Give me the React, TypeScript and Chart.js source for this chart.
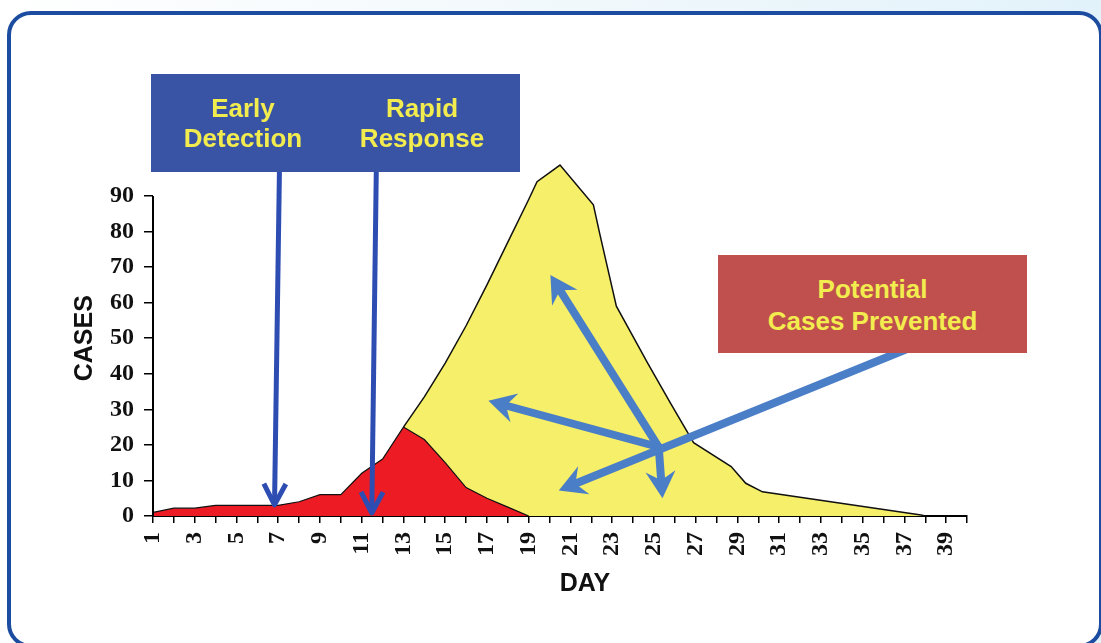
import React, { useEffect, useRef } from 'react';
import { Chart, registerables } from 'chart.js';

Chart.register(...registerables);

// ---- data ----
const dayMin = 1;
const dayMax = 40;
const caseMax = 100;
const caseAxisTop = 90;

const redDays = [1, 2, 3, 4, 5, 6, 7, 8, 9, 10, 11, 12, 13, 14, 15, 16, 17, 18, 19];
const redCases = [1, 2.2, 2.2, 3, 3, 3, 3, 4, 6, 6, 12, 16, 25, 21.5, 15, 8, 5, 2.5, 0];

const yellowDays = [13, 14, 15, 16, 17, 18, 19, 19.4, 20.5, 22.1, 22.4, 23.2, 24.7, 25.8, 26.9, 28.7, 29.4, 30.2, 37.8, 38];
const yellowCases = [25, 33.5, 43, 53.5, 65, 77, 89, 94, 98.7, 87.5, 79.5, 59, 43, 31.7, 20.6, 13.9, 9.2, 6.8, 0.3, 0];

// annotation arrows in data coordinates [day, cases]
const detectionArrows = [
  { from: [7.06, 98], to: [6.82, 2.3] },
  { from: [11.7, 98], to: [11.48, 0] },
];
const preventedHub = [25.23, 19.4];
const preventedTips = [
  [17.07, 32.4],
  [20.04, 67.8],
  [25.41, 5.0],
];
const preventedLong = { from: [37.1, 46.9], to: [20.44, 7.2] };

const detectionLabels = [['Early', 'Detection'], ['Rapid', 'Response']];
const preventedLabel = ['Potential', 'Cases Prevented'];

const RED = '#ED1C24';
const YELLOW = '#F6EF6A';
const DARK_BLUE = '#2D4DB2';
const LIGHT_BLUE = '#4A7EC7';

function fatArrow(ctx: CanvasRenderingContext2D, x1: number, y1: number, x2: number, y2: number) {
  const dx = x2 - x1, dy = y2 - y1;
  const len = Math.hypot(dx, dy);
  const ux = dx / len, uy = dy / len;
  const px = -uy, py = ux;
  const headLen = 27, headHalf = 15, notch = 9;
  ctx.strokeStyle = LIGHT_BLUE;
  ctx.fillStyle = LIGHT_BLUE;
  ctx.lineWidth = 8;
  ctx.lineCap = 'round';
  ctx.beginPath();
  ctx.moveTo(x1, y1);
  ctx.lineTo(x2 - ux * (headLen - notch - 1), y2 - uy * (headLen - notch - 1));
  ctx.stroke();
  ctx.beginPath();
  ctx.moveTo(x2, y2);
  ctx.lineTo(x2 - ux * headLen + px * headHalf, y2 - uy * headLen + py * headHalf);
  ctx.lineTo(x2 - ux * (headLen - notch), y2 - uy * (headLen - notch));
  ctx.lineTo(x2 - ux * headLen - px * headHalf, y2 - uy * headLen - py * headHalf);
  ctx.closePath();
  ctx.fill();
}

function thinArrow(ctx: CanvasRenderingContext2D, x1: number, y1: number, x2: number, y2: number) {
  const dx = x2 - x1, dy = y2 - y1;
  const len = Math.hypot(dx, dy);
  const ux = dx / len, uy = dy / len;
  const px = -uy, py = ux;
  const tipX = x2 - ux * 3, tipY = y2 - uy * 3;
  ctx.strokeStyle = DARK_BLUE;
  ctx.lineWidth = 5;
  ctx.lineCap = 'butt';
  ctx.lineJoin = 'round';
  ctx.beginPath();
  ctx.moveTo(x1, y1);
  ctx.lineTo(tipX, tipY);
  ctx.stroke();
  ctx.beginPath();
  ctx.moveTo(tipX - ux * 21 + px * 11, tipY - uy * 21 + py * 11);
  ctx.lineTo(tipX, tipY);
  ctx.lineTo(tipX - ux * 21 - px * 11, tipY - uy * 21 - py * 11);
  ctx.stroke();
}

const annotationPlugin = {
  id: 'epiAnnotations',
  afterLayout(chart: any) {
    // the DAY title sits a little right of the axis centre in the original
    const xs = chart.scales.x;
    if (xs && !xs.__shifted) {
      const orig = xs.drawTitle.bind(xs);
      xs.drawTitle = function () {
        const c = chart.ctx;
        c.save();
        c.translate(25, 0);
        orig();
        c.restore();
      };
      xs.__shifted = true;
    }
  },
  afterDatasetsDraw(chart: any) {
    const { ctx, chartArea } = chart;
    const x = chart.scales.x;
    const y = chart.scales.y;
    const P = (p: number[]) => [x.getPixelForValue(p[0]), y.getPixelForValue(p[1])];
    ctx.save();
    // y axis line (0..90)
    ctx.strokeStyle = '#000';
    ctx.lineWidth = 2;
    ctx.beginPath();
    ctx.moveTo(chartArea.left, y.getPixelForValue(0) + 1);
    ctx.lineTo(chartArea.left, y.getPixelForValue(caseAxisTop));
    ctx.stroke();

    detectionArrows.forEach((a) => {
      const [x1, y1] = P(a.from);
      const [x2, y2] = P(a.to);
      thinArrow(ctx, x1, y1, x2, y2);
    });

    const [hx, hy] = P(preventedHub);
    preventedTips.forEach((t) => {
      const [tx, ty] = P(t);
      fatArrow(ctx, hx, hy, tx, ty);
    });
    const [lx1, ly1] = P(preventedLong.from);
    const [lx2, ly2] = P(preventedLong.to);
    fatArrow(ctx, lx1, ly1, lx2, ly2);
    ctx.restore();
  },
};

export default function App() {
  const canvasRef = useRef<HTMLCanvasElement>(null);

  useEffect(() => {
    const canvas = canvasRef.current;
    if (!canvas) return;
    const chart = new Chart(canvas, {
      type: 'line',
      data: {
        datasets: [
          {
            label: 'Cases',
            data: redDays.map((d, i) => ({ x: d, y: redCases[i] })),
            backgroundColor: RED,
            borderColor: '#111',
            borderWidth: 1.2,
            fill: 'origin',
            pointRadius: 0,
            tension: 0,
          },
          {
            label: 'Potential cases',
            data: yellowDays.map((d, i) => ({ x: d, y: yellowCases[i] })),
            backgroundColor: YELLOW,
            borderColor: '#111',
            borderWidth: 1.5,
            fill: 'origin',
            pointRadius: 0,
            tension: 0,
          },
        ],
      },
      options: {
        animation: false,
        responsive: false,
        devicePixelRatio: 1,
        layout: { padding: { left: 53, right: 134, top: 160.4, bottom: 27 } },
        plugins: {
          legend: { display: false },
          tooltip: { enabled: false },
        },
        scales: {
          x: {
            type: 'linear',
            min: dayMin,
            max: dayMax,
            afterFit: (s: any) => { s.height = 100; },
            border: { display: true, color: '#000', width: 2 },
            grid: { drawOnChartArea: false, drawTicks: true, tickLength: 7, color: '#000', lineWidth: 1.5 },
            ticks: {
              stepSize: 1,
              maxTicksLimit: 60,
              autoSkip: false,
              minRotation: 90,
              maxRotation: 90,
              padding: 9,
              color: '#111',
              font: { family: '"Liberation Serif", "Times New Roman", serif', weight: 'bold', size: 24 },
              callback: (v: any) => (Number(v) % 2 === 1 && Number(v) < dayMax ? String(v) : ''),
            },
            title: {
              display: true,
              text: 'DAY',
              color: '#111',
              padding: { top: 0, bottom: 17 },
              font: { family: '"Liberation Sans", Arial, sans-serif', weight: 'bold', size: 25 },
            },
          },
          y: {
            type: 'linear',
            min: 0,
            max: caseMax,
            afterFit: (s: any) => { s.width = 100; },
            border: { display: false },
            grid: {
              drawOnChartArea: false,
              drawTicks: true,
              tickLength: 9,
              lineWidth: 1.5,
              color: (c: any) => (c.tick && c.tick.value > caseAxisTop ? 'rgba(0,0,0,0)' : '#000'),
            },
            ticks: {
              stepSize: 10,
              padding: 10,
              color: '#111',
              font: { family: '"Liberation Serif", "Times New Roman", serif', weight: 'bold', size: 24 },
              callback: (v: any) => (Number(v) > caseAxisTop ? '' : String(v)),
            },
            title: {
              display: true,
              text: 'CASES',
              color: '#111',
              padding: { top: 17, bottom: 0 },
              font: { family: '"Liberation Sans", Arial, sans-serif', weight: 'bold', size: 25 },
            },
          },
        },
      },
      plugins: [annotationPlugin],
    } as any);
    return () => chart.destroy();
  }, []);

  const boxText: React.CSSProperties = {
    position: 'absolute',
    width: 200,
    textAlign: 'center',
    color: '#F2EC4E',
    fontFamily: '"Liberation Sans", Arial, sans-serif',
    fontWeight: 'bold',
    fontSize: 26,
    lineHeight: '30px',
  };

  return (
    <div
      style={{
        position: 'fixed',
        left: 0,
        top: 0,
        width: 1101,
        height: 643,
        overflow: 'hidden',
        background: 'linear-gradient(90deg, #ffffff 0%, #f3f9fc 45%, #e2f2fa 100%)',
      }}
    >
      <div
        style={{
          position: 'absolute',
          left: 7,
          top: 11,
          width: 1096,
          height: 637,
          boxSizing: 'border-box',
          border: '4px solid #1B4C9F',
          borderRadius: 24,
          background: '#ffffff',
        }}
      />
      <canvas ref={canvasRef} width={1101} height={643} style={{ position: 'absolute', left: 0, top: 0, width: 1101, height: 643 }} />
      <div style={{ position: 'absolute', left: 151, top: 74, width: 369, height: 98, background: '#3A54A5' }}>
        <div style={{ ...boxText, left: -8, top: 19 }}>
          {detectionLabels[0][0]}
          <br />
          {detectionLabels[0][1]}
        </div>
        <div style={{ ...boxText, left: 171, top: 19 }}>
          {detectionLabels[1][0]}
          <br />
          {detectionLabels[1][1]}
        </div>
      </div>
      <div style={{ position: 'absolute', left: 718, top: 255, width: 309, height: 98, background: '#C0504D' }}>
        <div style={{ ...boxText, left: 0, width: 309, top: 18, lineHeight: '32px' }}>
          {preventedLabel[0]}
          <br />
          {preventedLabel[1]}
        </div>
      </div>
    </div>
  );
}
